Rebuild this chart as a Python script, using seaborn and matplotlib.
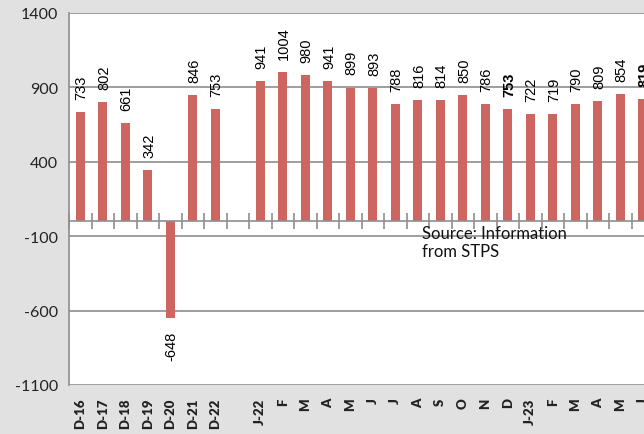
import matplotlib
matplotlib.use("Agg")
import matplotlib.pyplot as plt
import seaborn as sns
import numpy as np
import pandas as pd

# ---- data ----
labels = ["D-16", "D-17", "D-18", "D-19", "D-20", "D-21", "D-22", "",
          "J-22", "F", "M", "A", "M", "J", "J", "A", "S", "O", "N", "D",
          "J-23", "F", "M", "A", "M", "J"]
values = [733, 802, 661, 342, -648, 846, 753, np.nan,
          941, 1004, 980, 941, 899, 893, 788, 816, 814, 850, 786, 753,
          722, 719, 790, 809, 854, 819]
bold_slots = [19, 25]
yticks = [-1100, -600, -100, 400, 900, 1400]
source_text = "Source: Information\nfrom STPS"

BAR = "#CD6660"
GRID = "#8E8E8E"
BG = "#E1E1E1"

sns.set_theme(style="white")
plt.rcParams["font.family"] = ["Lato", "DejaVu Sans"]

df = pd.DataFrame({"slot": list(range(len(labels))), "value": values})

fig = plt.figure(figsize=(6.44, 4.35), dpi=100, facecolor=BG)
ax = fig.add_axes([69 / 644, 1 - 386 / 435, 585 / 644, 372 / 435])
ax.set_facecolor("white")

sns.barplot(data=df, x="slot", y="value", order=list(range(len(labels))),
            color=BAR, saturation=1, width=0.38, ax=ax, errorbar=None,
            edgecolor="none", zorder=2)

ax.set_ylim(-1100, 1400)
ax.set_xlim(-0.5, len(labels) - 0.5)
ax.set_yticks(yticks)
ax.set_yticklabels([str(t) for t in yticks], fontsize=11.5, color="#222222")
ax.grid(False)
for t in yticks:
    ax.axhline(t, color=GRID, lw=1.2, zorder=0)
ax.axhline(0, color=GRID, lw=1.2, zorder=3)

for s in ["top", "right", "bottom"]:
    ax.spines[s].set_visible(False)
ax.spines["left"].set_color(GRID)
ax.spines["left"].set_linewidth(1.2)
ax.tick_params(axis="y", direction="out", length=5, width=1.2, color=GRID, pad=3)

ax.set_xticks(range(len(labels)))
ax.set_xticklabels(labels, rotation=90, fontsize=9.5, fontweight="heavy", color="#222222")
ax.tick_params(axis="x", length=0, pad=9)
ax.set_xlabel("")
ax.set_ylabel("")

# zero axis with boundary ticks
sec = ax.secondary_xaxis(1100 / 2500)
sec.set_xticks(np.arange(len(labels) + 1) - 0.5)
sec.set_xticklabels([])
sec.tick_params(axis="x", direction="inout", length=11, width=1.2, color=GRID)
for s in ["top", "left", "right", "bottom"]:
    sec.spines[s].set_visible(False)

# data labels
for i, v in enumerate(values):
    if np.isnan(v):
        continue
    weight = "bold" if i in bold_slots else "normal"
    up = v >= 0
    ax.annotate(str(int(v)), (i, v), xytext=(1, 9.5 if up else -9.5),
                textcoords="offset points", rotation=90, ha="center",
                va="bottom" if up else "top", fontsize=10.5, fontweight=weight,
                family=["Liberation Sans", "DejaVu Sans"], color="black")

ax.text(0.603, 0.43, source_text, transform=ax.transAxes, ha="left", va="top",
        fontsize=12, color="#111111", linespacing=1.15)

fig.savefig("out.png", dpi=100, facecolor=BG)
